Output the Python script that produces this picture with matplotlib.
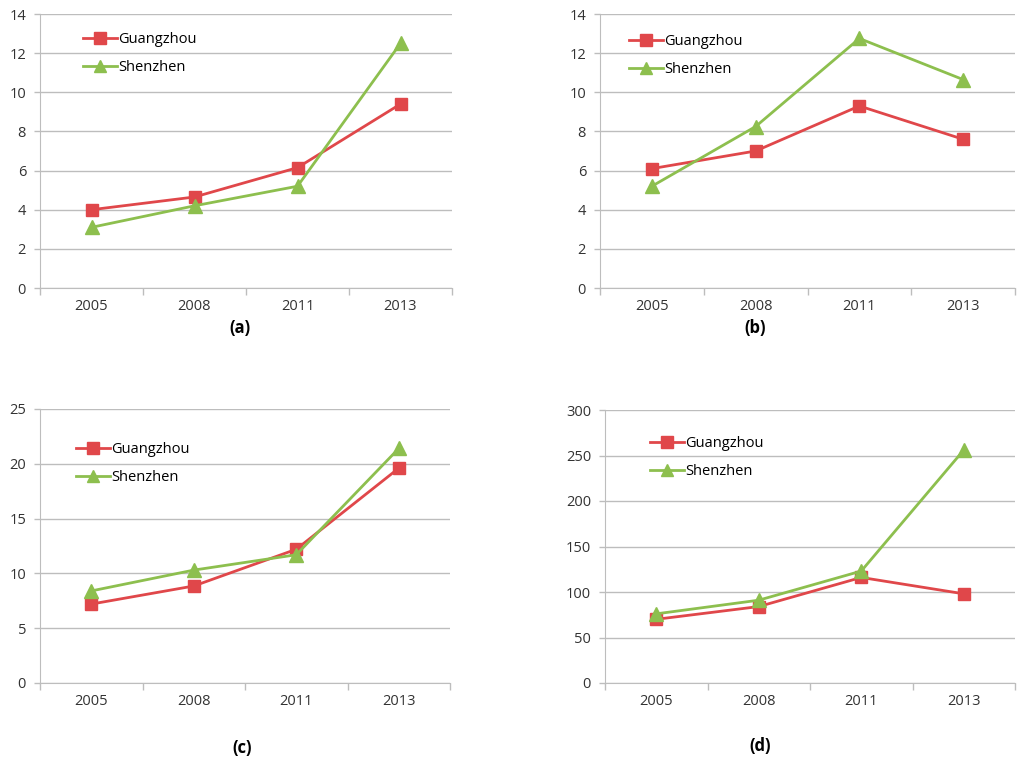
import matplotlib.pyplot as plt
from matplotlib.ticker import FixedLocator

years = ["2005", "2008", "2011", "2013"]

# valores de cada panel
gz_a = [4.0, 4.65, 6.15, 9.4]
sz_a = [3.1, 4.2, 5.2, 12.5]
gz_b = [6.1, 7.0, 9.3, 7.6]
sz_b = [5.2, 8.25, 12.75, 10.65]
gz_c = [7.2, 8.85, 12.2, 19.6]
sz_c = [8.4, 10.3, 11.7, 21.4]
gz_d = [70, 84, 116, 98]
sz_d = [76, 91, 123, 256]

rojo = "#E0474A"
verde = "#8DBF4E"
gris = "#BDBDBD"

plt.rcParams['font.family'] = ['Open Sans', 'DejaVu Sans']

fig = plt.figure(figsize=(10.24, 7.68), dpi=100)

W, H = 1024.0, 768.0


def caja(izq, der, arriba, abajo):
    return [izq / W, 1 - abajo / H, (der - izq) / W, (abajo - arriba) / H]


paneles = [
    (caja(40, 452, 14, 288), gz_a, sz_a, 14, 2, "(a)", (240, 328), (43, 24)),
    (caja(600, 1015, 14, 288), gz_b, sz_b, 14, 2, "(b)", (755, 328), (29, 26)),
    (caja(40, 450, 409, 683), gz_c, sz_c, 25, 5, "(c)", (242, 748), (36, 39)),
    (caja(605, 1015, 410, 683), gz_d, sz_d, 300, 50, "(d)", (760, 746), (45, 32)),
]

for rect, gz, sz, ymax, paso, etiqueta, pos_etq, pos_leg in paneles:
    ax = fig.add_axes(rect)
    x = list(range(len(years)))
    ax.plot(x, gz, color=rojo, lw=2.0, marker='s', ms=9, label="Guangzhou", zorder=3)
    ax.plot(x, sz, color=verde, lw=2.0, marker='^', ms=10, label="Shenzhen", zorder=4)
    ax.set_xlim(-0.5, 3.5)
    ax.set_ylim(0, ymax)
    ax.set_yticks(range(0, ymax + 1, paso))
    ax.set_xticks(x)
    ax.set_xticklabels(years)
    ax.xaxis.set_minor_locator(FixedLocator([-0.5, 0.5, 1.5, 2.5, 3.5]))
    ax.tick_params(axis='x', which='major', length=0, pad=8, labelsize=10.5, colors='#333333')
    ax.tick_params(axis='x', which='minor', length=5, color=gris, width=1)
    ax.tick_params(axis='y', length=4, color=gris, width=1, labelsize=10.5, colors='#333333', pad=6)
    ax.yaxis.grid(True, color=gris, lw=1)
    ax.set_axisbelow(True)
    for lado in ['top', 'right']:
        ax.spines[lado].set_visible(False)
    for lado in ['left', 'bottom']:
        ax.spines[lado].set_color(gris)
    # leyenda sin marco, arriba a la izquierda
    ancho = rect[2] * W
    alto = rect[3] * H
    ax.legend(loc='upper left',
              bbox_to_anchor=(pos_leg[0] / ancho, 1 - (pos_leg[1] - 6) / alto),
              frameon=False, fontsize=10.5, handlelength=2.3, handletextpad=0.1,
              labelspacing=0.9, borderpad=0, borderaxespad=0, markerscale=0.9)
    fig.text(pos_etq[0] / W, 1 - pos_etq[1] / H, etiqueta, ha='center', va='center',
             fontsize=12, fontweight='bold')

fig.savefig("out.png", dpi=100, facecolor='white')
